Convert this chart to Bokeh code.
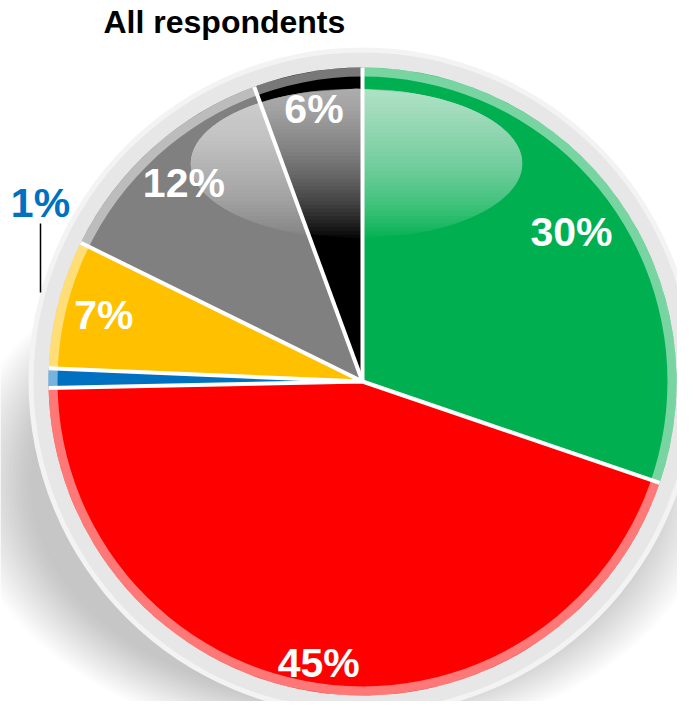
import numpy as np
from bokeh.plotting import figure
from bokeh.models import Range1d, ColumnDataSource
from bokeh.embed import file_html
from bokeh.resources import INLINE
from bokeh.core.properties import value

# ---------------- data ----------------
title_text = "All respondents"
categories = ["Green", "Red", "Blue", "Yellow", "Gray", "Black"]
shares = [30.2, 44.4, 1.0, 6.6, 12.1, 5.6]
labels = ["30%", "45%", "1%", "7%", "12%", "6%"]
colors = ["#00b050", "#ff0000", "#0070c0", "#ffc000", "#808080", "#000000"]

# ---------------- layout ----------------
W, H = 677, 701


def Y(py):
    return H - py


CX, CY = 362, Y(381)
R = 314
FONT = value("Liberation Sans")

p = figure(width=W, height=H, output_backend="svg", toolbar_location=None,
           x_range=Range1d(0, W), y_range=Range1d(0, H),
           min_border=0, outline_line_color=None,
           background_fill_color="white", border_fill_color="white")
p.axis.visible = False
p.grid.visible = False

# soft shadow under the pie (shifted slightly left)
n_sh = 20
for k in range(n_sh):
    t = k / (n_sh - 1)
    p.ellipse(x=338, y=Y(482), width=2 * (378 - 70 * t), height=2 * (262 - 45 * t),
              fill_color="#606060", fill_alpha=0.02, line_color=None)

# outer ring
p.circle(x=CX, y=CY, radius=R + 20, fill_color="#f3f3f3", line_color=None)
p.circle(x=CX, y=CY, radius=R + 15, fill_color="#e7e7e7", line_color=None)

# slices
frac = np.array(shares) / np.sum(shares)
cum = np.concatenate([[0.0], np.cumsum(frac)])
start = np.pi / 2 - 2 * np.pi * cum[:-1]
end = np.pi / 2 - 2 * np.pi * cum[1:]
mid = (start + end) / 2
src = ColumnDataSource(dict(cat=categories, start=start, end=end, color=colors))
p.wedge(x=CX, y=CY, radius=R, start_angle="start", end_angle="end",
        direction="clock", fill_color="color", line_color=None, source=src)

# lighter rim band on each slice
p.annulus(x=CX, y=CY, inner_radius=R - 9, outer_radius=R,
          fill_color="white", fill_alpha=0.47, line_color=None)

# glossy highlight (stacked layers -> vertical gradient)
hx, hy, ha, hb = 356, Y(163), 166, 75
N = 40
alpha = 1 - 0.28 ** (1 / N)
xs_l, ys_l = [], []
for k in range(N):
    ycut = hy - hb + 2 * hb * k / N  # lower bound of this layer
    yy = np.linspace(hy + hb, ycut, 30)
    half = ha * np.sqrt(np.clip(1 - ((yy - hy) / hb) ** 2, 0, 1))
    xs_l.append(list(hx - half) + list(hx + half[::-1]))
    ys_l.append(list(yy) + list(yy[::-1]))
p.patches(xs=xs_l, ys=ys_l, fill_color="white", fill_alpha=alpha, line_color=None)

# white separators
p.ray(x=CX, y=CY, length=R, angle=start, line_color="white", line_width=4)

# slice labels
label_r = [257, 285, 0, 267, 267, 277]
lx, ly, lt = [], [], []
for i, lab in enumerate(labels):
    if label_r[i] == 0:
        continue
    lx.append(CX + label_r[i] * np.cos(mid[i]))
    ly.append(CY + label_r[i] * np.sin(mid[i]))
    lt.append(lab)
p.text(x=lx, y=ly, text=lt, text_color="white", text_font=FONT,
       text_font_size="41px", text_font_style="bold",
       text_align="center", text_baseline="middle")

# small slice label outside with leader
p.segment(x0=40, y0=Y(223), x1=40, y1=Y(292), line_color="black", line_width=1.5)
p.text(x=[40], y=[Y(202)], text=[labels[2]], text_color=colors[2], text_font=FONT,
       text_font_size="41px", text_font_style="bold",
       text_align="center", text_baseline="middle")

# title
p.text(x=[103], y=[Y(21)], text=[title_text], text_color="black", text_font=FONT,
       text_font_size="32px", text_font_style="bold",
       text_align="left", text_baseline="middle")

open("out.html", "w").write(file_html(p, INLINE))
